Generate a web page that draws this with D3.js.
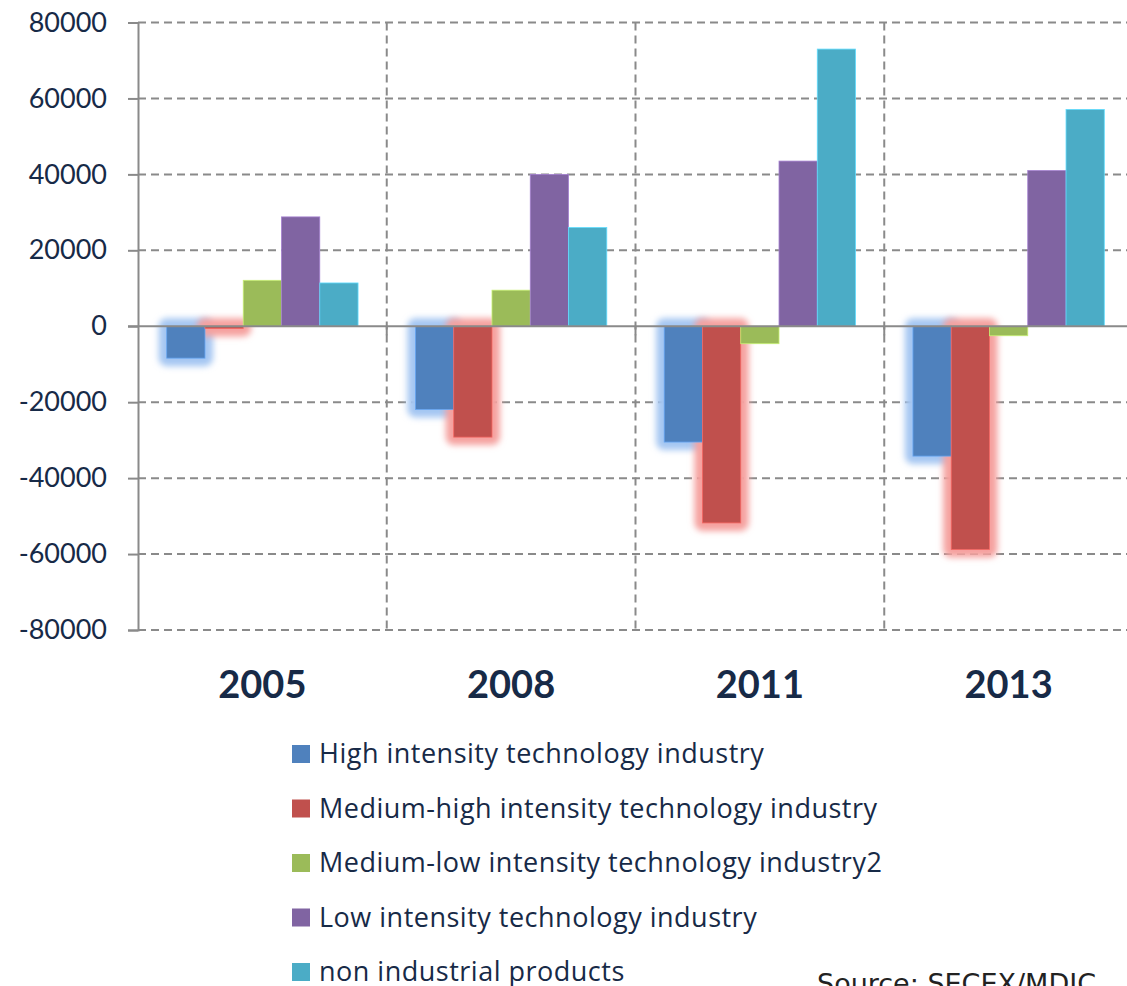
<!DOCTYPE html>
<html>
<head>
<meta charset="utf-8">
<script src="https://cdn.jsdelivr.net/npm/d3@7"></script>
<style>
	html, body { margin: 0; padding: 0; background: #fff; overflow: hidden; }
	svg { display: block; }
</style>
</head>
<body>
<div id="chart"></div>
<script>
'use strict';

var years = ['2005', '2008', '2011', '2013'];
var seriesNames = [
	'High intensity technology industry',
	'Medium-high intensity technology industry',
	'Medium-low intensity technology industry2',
	'Low intensity technology industry',
	'non industrial products'
];
var highTech = [-8400, -21900, -30500, -34200];
var mediumHighTech = [-600, -29200, -51800, -58800];
var mediumLowTech = [12100, 9500, -4600, -2500];
var lowTech = [28800, 40000, 43500, 41000];
var nonIndustrial = [11400, 26000, 73000, 57100];
var yTicks = [80000, 60000, 40000, 20000, 0, -20000, -40000, -60000, -80000];
var sourceNote = 'Source: SECEX/MDIC';

var seriesValues = [highTech, mediumHighTech, mediumLowTech, lowTech, nonIndustrial];
var colors = ['#4f81bd', '#c0504d', '#9bbb59', '#8064a2', '#4bacc6'];
var glowColors = ['#a4c6f2', '#f5a19f', null, null, null];
var textColor = '#172a47';
var gridColor = '#8a8a8a';

var width = 1127;
var height = 986;
var plotLeft = 138;
var plotRight = 1133;
var plotTop = 22.5;
var plotBottom = 630;

var svg = d3.select('#chart').append('svg')
	.attr('width', width)
	.attr('height', height);

var defs = svg.append('defs');
defs.append('filter')
	.attr('id', 'glow')
	.attr('x', '-50%').attr('y', '-50%')
	.attr('width', '200%').attr('height', '200%')
	.append('feGaussianBlur')
		.attr('stdDeviation', 3.2);

var y = d3.scaleLinear()
	.domain([-80000, 80000])
	.range([plotBottom, plotTop]);

var x0 = d3.scaleBand()
	.domain(years)
	.range([plotLeft, plotRight])
	.padding(0);

var x1 = d3.scaleBand()
	.domain(d3.range(seriesNames.length))
	.range([0, x0.bandwidth()])
	.paddingInner(0)
	.paddingOuter(0.75);

// gridlines
var grid = svg.append('g').attr('class', 'grid');

grid.selectAll('line.h')
	.data(yTicks.filter(function(d){ return d !== 0; }))
	.enter().append('line')
	.attr('class', 'h')
	.attr('x1', plotLeft).attr('x2', plotRight)
	.attr('y1', function(d){ return y(d); })
	.attr('y2', function(d){ return y(d); })
	.attr('stroke', gridColor)
	.attr('stroke-width', 2)
	.attr('stroke-dasharray', '8,5');

grid.selectAll('line.v')
	.data(years.slice(1).concat(['end']))
	.enter().append('line')
	.attr('class', 'v')
	.attr('x1', function(d){ return d === 'end' ? plotRight : x0(d); })
	.attr('x2', function(d){ return d === 'end' ? plotRight : x0(d); })
	.attr('y1', y(80000)).attr('y2', y(-80000))
	.attr('stroke', gridColor)
	.attr('stroke-width', 2)
	.attr('stroke-dasharray', '8,5');

// data rows
var rows = [];
seriesValues.forEach(function(vals, s){
	years.forEach(function(yr, i){
		rows.push({ year: yr, series: s, value: vals[i] });
	});
});

var glowRows = rows.filter(function(d){ return glowColors[d.series]; });

svg.append('g').attr('class', 'glows')
	.selectAll('rect')
	.data(glowRows)
	.enter().append('rect')
	.attr('x', function(d){ return x0(d.year) + x1(d.series) - 8; })
	.attr('y', function(d){ return Math.min(y(d.value), y(0)) - 8; })
	.attr('width', x1.bandwidth() + 16)
	.attr('height', function(d){ return Math.abs(y(d.value) - y(0)) + 16; })
	.attr('rx', 8)
	.attr('fill', function(d){ return glowColors[d.series]; })
	.attr('filter', 'url(#glow)');

svg.append('g').attr('class', 'bars')
	.selectAll('rect')
	.data(rows)
	.enter().append('rect')
	.attr('x', function(d){ return x0(d.year) + x1(d.series); })
	.attr('y', function(d){ return Math.min(y(d.value), y(0)); })
	.attr('width', x1.bandwidth())
	.attr('height', function(d){ return Math.max(1.5, Math.abs(y(d.value) - y(0))); })
	.attr('fill', function(d){ return colors[d.series]; })
	.attr('stroke', function(d){ return d3.color(colors[d.series]).brighter(0.7); })
	.attr('stroke-width', 0.8);

// zero line + y axis
svg.append('line')
	.attr('x1', plotLeft - 10).attr('x2', plotRight)
	.attr('y1', y(0)).attr('y2', y(0))
	.attr('stroke', gridColor)
	.attr('stroke-width', 2);

svg.append('g')
	.attr('class', 'xticks')
	.selectAll('line')
	.data(years.slice(1))
	.enter().append('line')
	.attr('x1', function(d){ return x0(d); })
	.attr('x2', function(d){ return x0(d); })
	.attr('y1', y(0)).attr('y2', y(0) + 9)
	.attr('stroke', gridColor)
	.attr('stroke-width', 2);

var yAxis = svg.append('g')
	.attr('transform', 'translate(' + plotLeft + ',0)')
	.call(d3.axisLeft(y).tickValues(yTicks).tickSize(10).tickPadding(21).tickFormat(function(d){ return String(d); }));

yAxis.select('.domain').attr('stroke', gridColor).attr('stroke-width', 2);
yAxis.selectAll('.tick line').attr('stroke', gridColor).attr('stroke-width', 2);
yAxis.selectAll('.tick text')
	.attr('fill', textColor)
	.style('font-family', 'Lato, sans-serif')
	.style('font-size', '27px');

// year labels
svg.append('g').attr('class', 'years')
	.selectAll('text')
	.data(years)
	.enter().append('text')
	.attr('x', function(d){ return x0(d) + x0.bandwidth() / 2; })
	.attr('y', 698)
	.attr('text-anchor', 'middle')
	.attr('fill', textColor)
	.style('font-family', 'Lato, sans-serif')
	.style('font-weight', 'bold')
	.style('font-size', '38px')
	.text(function(d){ return d; });

// legend
var legend = svg.append('g').attr('class', 'legend')
	.selectAll('g')
	.data(seriesNames)
	.enter().append('g')
	.attr('transform', function(d, i){ return 'translate(292,' + (763 + i * 54.5) + ')'; });

legend.append('rect')
	.attr('x', 0).attr('y', -18)
	.attr('width', 18).attr('height', 18)
	.attr('fill', function(d, i){ return colors[i]; });

legend.append('text')
	.attr('x', 27)
	.attr('y', 0)
	.attr('fill', textColor)
	.style('font-family', '"Open Sans", sans-serif')
	.style('font-size', '27px')
	.style('letter-spacing', '0.5px')
	.text(function(d){ return d; });

svg.append('text')
	.attr('x', 817)
	.attr('y', 993)
	.attr('fill', '#222')
	.style('font-family', '"DejaVu Sans", sans-serif')
	.style('font-size', '27px')
	.text(sourceNote);
</script>
</body>
</html>
